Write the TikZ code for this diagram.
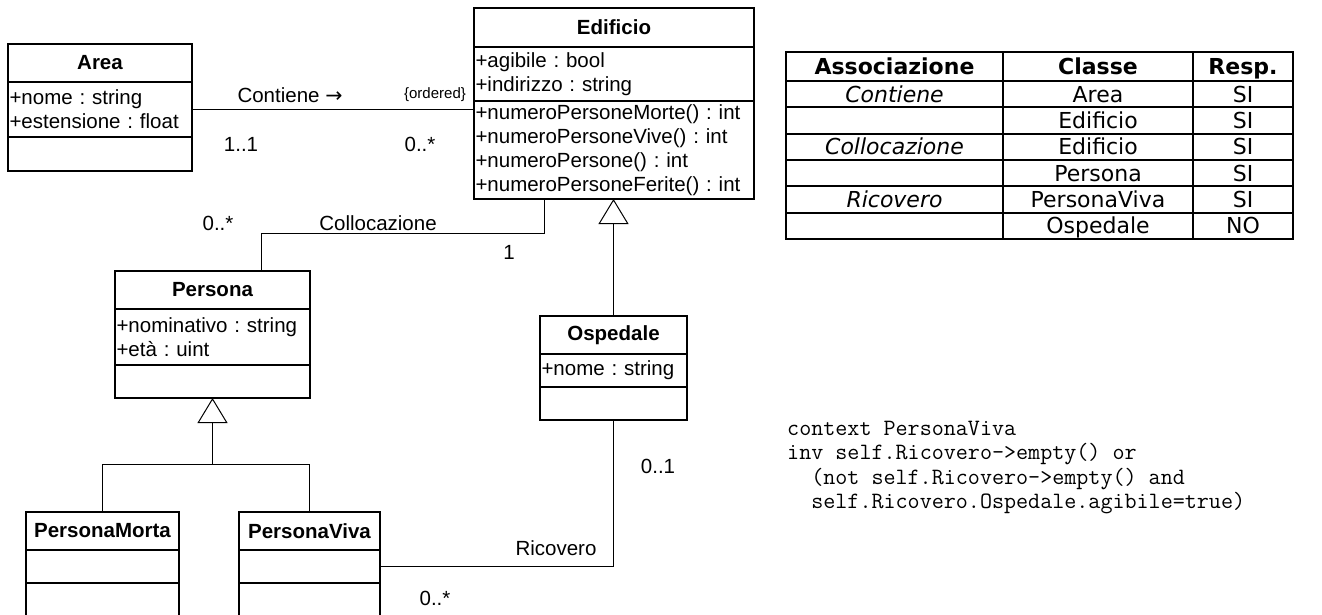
\documentclass[tikz,border=0pt]{standalone}
\usepackage{fontspec}
\usetikzlibrary{arrows.meta,positioning}
\newfontfamily\umlfont{Liberation Sans}
\newfontfamily\tabfont{DejaVu Sans}

\begin{document}
\frenchspacing
\begin{tikzpicture}[
  x=1pt, y=-1pt,
  umlbox/.style={draw, line width=1.6pt, inner sep=0pt, outer sep=0pt},
  classhead/.style={umlbox, font=\umlfont\bfseries\fontsize{20.5}{24}\selectfont, minimum height=38, anchor=north},
  members/.style={umlbox, font=\umlfont\fontsize{20.5}{24}\selectfont, align=left, inner xsep=1.5pt},
  assoc/.style={draw, line width=1pt},
  gen/.style={assoc, -{Triangle[open, length=25pt, width=30pt, line width=1pt]}},
  lbl/.style={font=\umlfont\fontsize{20.5}{24}\selectfont, inner sep=0pt},
  tabline/.style={draw, line width=1.7pt},
  cell/.style={font=\tabfont\fontsize{22}{26}\selectfont, inner sep=0pt, text height=18pt, text depth=2pt},
  tabhead/.style={cell, font=\tabfont\bfseries\fontsize{22}{26}\selectfont},
  assocname/.style={cell, font=\tabfont\itshape\fontsize{22}{26}\selectfont},
  ocl/.style={font=\ttfamily\fontsize{23.4}{24.3}\selectfont, align=left, inner sep=0pt}
]
  \path[use as bounding box, fill=white] (0,0) rectangle (1322,614);

  % classes
  \node[classhead, minimum width=184] (area) at (100,44) {Area};
  \node[members, text width=181pt, minimum height=55, below=0pt of area] (area-a) {+nome : string\\+estensione : float};
  \node[members, text width=181pt, minimum height=34, below=0pt of area-a] (area-o) {};

  \node[classhead, minimum width=280, minimum height=39] (edificio) at (614,8) {Edificio};
  \node[members, text width=277pt, minimum height=54, below=0pt of edificio] (edificio-a) {+agibile : bool\\+indirizzo : string};
  \node[members, text width=277pt, minimum height=98, below=0pt of edificio-a] (edificio-o) {+numeroPersoneMorte() : int\\+numeroPersoneVive() : int\\+numeroPersone() : int\\+numeroPersoneFerite() : int};

  \node[classhead, minimum width=195] (persona) at (212.5,271) {Persona};
  \node[members, text width=192pt, minimum height=56, below=0pt of persona] (persona-a) {+nominativo : string\\+età : uint};
  \node[members, text width=192pt, minimum height=33, below=0pt of persona-a] (persona-o) {};

  \node[classhead, minimum width=147] (ospedale) at (613.5,316) {Ospedale};
  \node[members, text width=144pt, minimum height=33, below=0pt of ospedale] (ospedale-a) {+nome : string};
  \node[members, text width=144pt, minimum height=33, below=0pt of ospedale-a] (ospedale-o) {};

  \node[classhead, minimum width=153] (morta) at (102.5,512) {PersonaMorta};
  \node[members, text width=150pt, minimum height=33, below=0pt of morta] (morta-a) {};
  \node[members, text width=150pt, minimum height=33, below=0pt of morta-a] (morta-o) {};

  \node[classhead, minimum width=141] (viva) at (309.5,512) {PersonaViva};
  \node[members, text width=138pt, minimum height=33, below=0pt of viva] (viva-a) {};
  \node[members, text width=138pt, minimum height=33, below=0pt of viva-a] (viva-o) {};

  % associations
  \draw[assoc] (area-a.east) -- (area-a.east -| edificio.west);
  \draw[assoc] ([xshift=-70pt]edificio-o.south) -- ++(0,34) -| ([xshift=48.5pt]persona.north);
  \draw[assoc] (viva-a.east) -| (ospedale-o.south);

  % generalizations
  \draw[gen] (ospedale.north) -- (ospedale.north |- edificio-o.south);
  \coordinate[below=66pt of persona-o.south] (pfork);
  \draw[assoc] (morta.north) |- (pfork);
  \draw[assoc] (viva.north) |- (pfork);
  \draw[gen] (pfork) -- (persona-o.south);

  % labels
  \node[lbl] (contiene) at (290,95) {Contiene {\tabfont →}};
  \node[lbl, font=\umlfont\fontsize{15}{18}\selectfont] (ordered) at (435,95) {\{ordered\}};
  \node[lbl] (m-area) at (241,144) {1..1};
  \node[lbl] (m-edificio) at (420,144) {0..*};
  \node[lbl] (m-persona) at (218,223) {0..*};
  \node[lbl] (colloc) at (378,223) {Collocazione};
  \node[lbl] (m-edificio2) at (509,252) {1};
  \node[lbl] (m-ospedale) at (658,466) {0..1};
  \node[lbl] (ricovero) at (556,548) {Ricovero};
  \node[lbl] (m-viva) at (435,598) {0..*};

  % table
  \draw[tabline] (786,52) rectangle (1293,239);
  \draw[tabline] (1003,52) -- (1003,239);
  \draw[tabline] (1193,52) -- (1193,239);
  \foreach \y in {81,107.3,133.7,160,186.3,212.7}
    \draw[tabline] (786,\y) -- (1293,\y);
  \node[tabhead] (h1) at (894.5,66.5) {Associazione};
  \node[tabhead] (h2) at (1098,66.5) {Classe};
  \node[tabhead] (h3) at (1243,66.5) {Resp.};
  \foreach \as/\cl/\re [count=\i] in {Contiene/Area/SI, /Edificio/SI, Collocazione/Edificio/SI,
      /Persona/SI, Ricovero/PersonaViva/SI, /Ospedale/NO} {
    \node[assocname] (a\i) at (894.5,{81+(\i-0.5)*26.33}) {\as};
    \node[cell] (c\i) at (1098,{81+(\i-0.5)*26.33}) {\cl};
    \node[cell] (r\i) at (1243,{81+(\i-0.5)*26.33}) {\re};
  }

  % OCL constraint
  \node[ocl, anchor=north west] (constraint) at (787,421) {context PersonaViva\\inv self.Ricovero->empty() or\\\hphantom{xx}(not self.Ricovero->empty() and\\\hphantom{xx}self.Ricovero.Ospedale.agibile=true)};
\end{tikzpicture}
\end{document}
